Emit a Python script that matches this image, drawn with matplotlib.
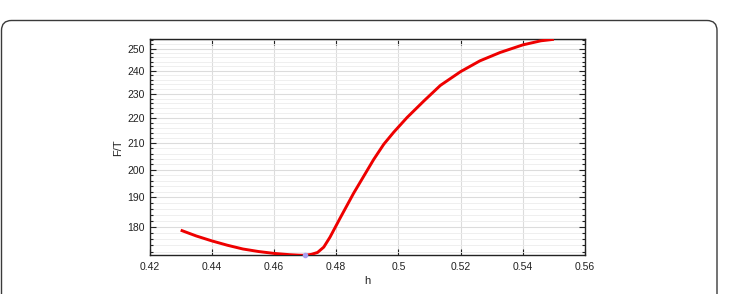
import matplotlib
matplotlib.use("Agg")
import matplotlib.pyplot as plt
from matplotlib.ticker import MultipleLocator, FixedLocator, FuncFormatter, NullFormatter
from matplotlib.patches import FancyBboxPatch
from matplotlib.transforms import IdentityTransform

plt.rcParams['font.family'] = ['Liberation Sans', 'DejaVu Sans']

h = [0.430, 0.435, 0.440, 0.445, 0.450, 0.455, 0.460, 0.465, 0.468, 0.470,
     0.4720, 0.4740, 0.4760, 0.4780, 0.4813, 0.4856, 0.4888, 0.4920, 0.4953,
     0.4985, 0.5028, 0.5082, 0.5135, 0.5200, 0.5262, 0.5327, 0.5400, 0.5458,
     0.5500]
ft = [178.9, 177.0, 175.4, 174.0, 172.8, 172.0, 171.4, 171.0, 170.85, 170.8,
      171.1, 171.7, 173.4, 176.6, 183.0, 191.5, 197.5, 203.7, 209.6,
      214.3, 220.2, 227.0, 233.6, 239.6, 244.4, 248.2, 251.7, 253.6,
      254.3]
min_h = [0.470]
min_ft = [170.8]
xticks = [0.42, 0.44, 0.46, 0.48, 0.50, 0.52, 0.54, 0.56]
yticks = [180, 190, 200, 210, 220, 230, 240, 250]

fig = plt.figure(figsize=(7.29, 2.94), dpi=100)

# rounded frame around figure
frame = FancyBboxPatch((1.5, -20), 715.5, 293.5,
                       boxstyle="round,pad=0,rounding_size=10",
                       transform=IdentityTransform(), fill=False,
                       edgecolor='#3a3a3a', linewidth=1.0)
fig.patches.append(frame)

ax = fig.add_axes([0.2052, 0.1316, 0.5973, 0.7347])
ax.set_yscale('log')
ax.plot(h, ft, color='#ee0000', linewidth=2.1, zorder=3,
        solid_joinstyle='round', solid_capstyle='butt')
ax.plot(min_h, min_ft, 'o', color='#a8a0f0', markersize=3, zorder=4, clip_on=False)

ax.set_xlim(0.42, 0.56)
ax.set_ylim(min(ft), max(ft))
ax.xaxis.set_major_locator(FixedLocator(xticks))
ax.xaxis.set_major_formatter(FuncFormatter(lambda v, p: '%g' % round(v, 4)))
ax.yaxis.set_major_locator(FixedLocator(yticks))
ax.yaxis.set_major_formatter(FuncFormatter(lambda v, p: '%g' % v))
ax.yaxis.set_minor_locator(MultipleLocator(2))
ax.yaxis.set_minor_formatter(NullFormatter())

ax.grid(True, which='major', axis='both', color='#dcdcdc', linewidth=0.8)
ax.grid(True, which='minor', axis='y', color='#ececec', linewidth=0.6)
ax.set_axisbelow(True)

ax.tick_params(which='both', direction='in', top=True, right=True,
               labelsize=7.5, colors='#222222', width=0.8)
ax.tick_params(which='major', length=4)
ax.tick_params(which='minor', length=2)
ax.tick_params(axis='x', pad=5)
for s in ax.spines.values():
    s.set_color('#222222')
    s.set_linewidth(1.0)

ax.set_xlabel('h', fontsize=8, color='#222222', labelpad=3)
ax.set_ylabel('F/T', fontsize=8, color='#222222', labelpad=3)

fig.savefig('out.png', dpi=100)
